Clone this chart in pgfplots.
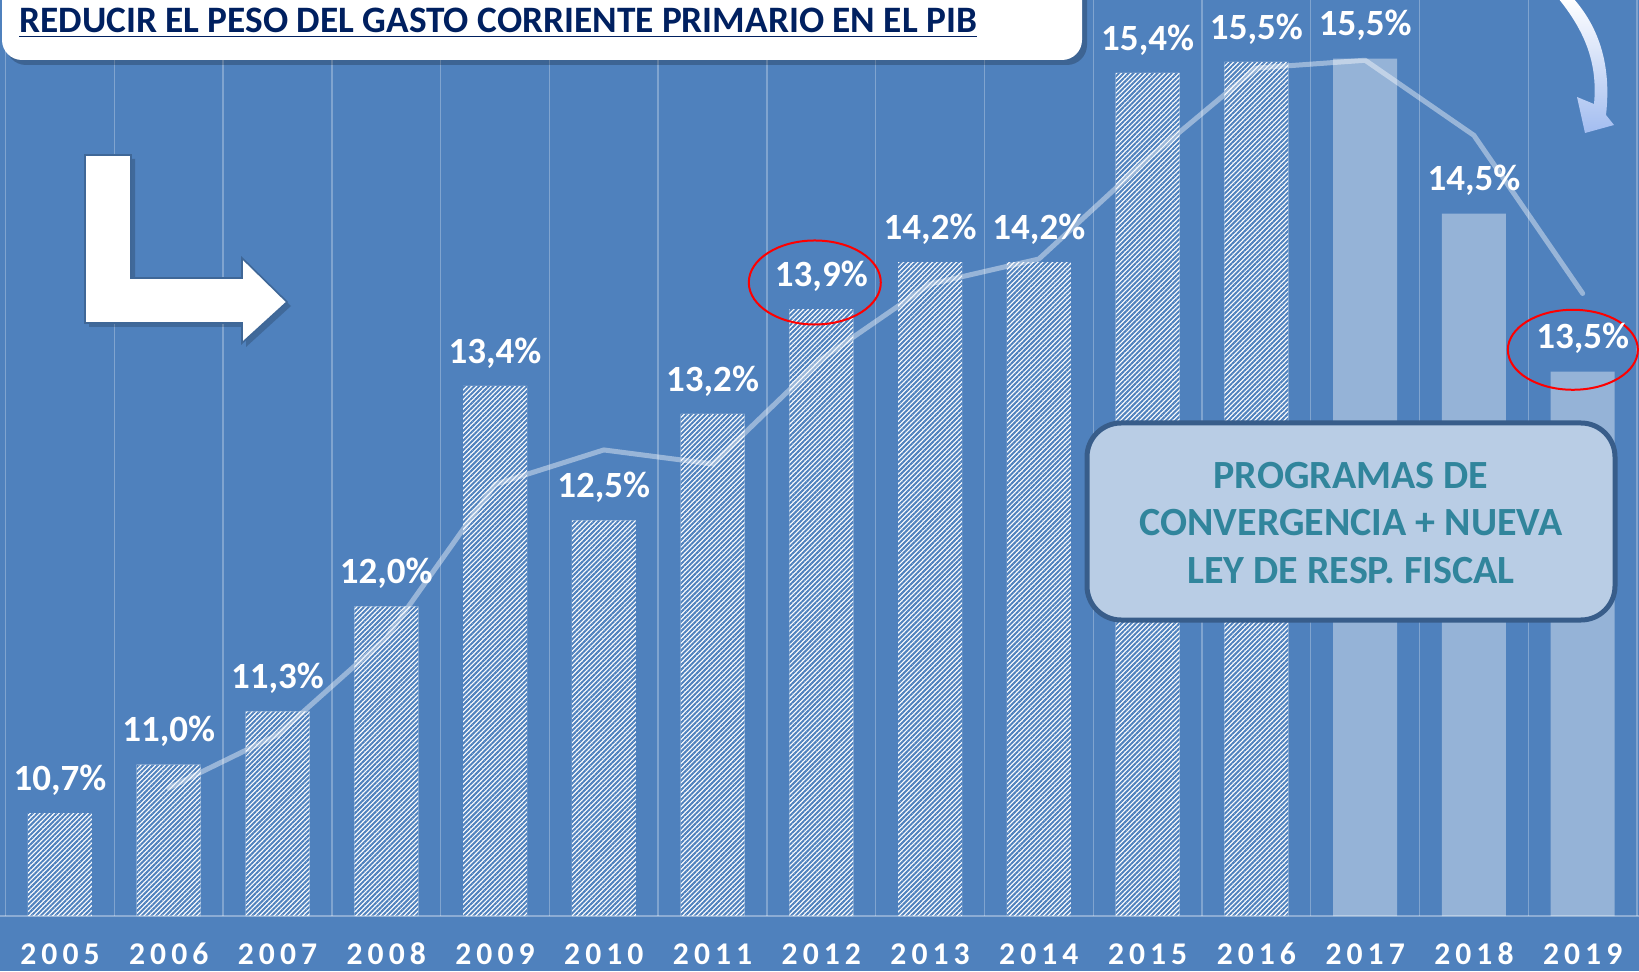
\documentclass[border=0pt]{standalone}
\usepackage{fontspec}
\setmainfont{Carlito}
\newfontfamily\yearfont[LetterSpace=16]{Carlito}
\usepackage{pgfplots}
\pgfplotsset{compat=1.18}
\usetikzlibrary{patterns.meta}
\definecolor{bgblue}{HTML}{4F81BD}
\definecolor{solidbar}{HTML}{95B3D7}
\definecolor{titleblue}{HTML}{002060}
\definecolor{boxfill}{HTML}{B9CDE5}
\definecolor{boxedge}{HTML}{385D8A}
\definecolor{boxtext}{HTML}{31859C}
\definecolor{arrowlight}{HTML}{A3BDF0}

\begin{document}
\begin{tikzpicture}
\useasboundingbox (0,0) rectangle (819.5pt,485.5pt);
\clip (0,0) rectangle (819.5pt,485.5pt);
\fill[bgblue] (0,0) rectangle (819.5pt,485.5pt);
\begin{axis}[
  at={(0pt,485.5pt)}, anchor=north west,
  width=819.5pt, height=458pt, scale only axis,
  xmin=-0.5515, xmax=14.518, ymin=10.042, ymax=15.895,
  axis line style={draw=none},
  ytick=\empty,
  xtick={0,...,14},
  xticklabels={2005,2006,2007,2008,2009,2010,2011,2012,2013,2014,2015,2016,2017,2018,2019},
  major tick length=0pt,
  minor xtick={-0.5,0.5,...,14.5},
  minor tick length=0pt,
  xminorgrids,
  minor grid style={white, opacity=0.28, line width=0.7pt},
  xticklabel style={font=\yearfont\bfseries\fontsize{15.8}{16}\selectfont, text=white, anchor=center, yshift=-19pt},
  nodes near coords style={font=\bfseries\fontsize{18.5}{20}\selectfont, text=white, anchor=center, yshift=16.5pt},
]
% ejecutado 2005-2016
\addplot[ybar, bar width=32pt, bar shift=0pt, draw=none, fill=white,
  postaction={pattern={Lines[angle=45,distance=1.7pt,line width=1pt]}, pattern color=bgblue},
  nodes near coords, point meta=explicit symbolic]
  coordinates {(0,10.7) [10,7\%] (1,11.01) [11,0\%] (2,11.35) [11,3\%] (3,12.02) [12,0\%]
               (4,13.43) [13,4\%] (5,12.57) [12,5\%] (6,13.25) [13,2\%] (7,13.92) [13,9\%]
               (8,14.22) [14,2\%] (9,14.22) [14,2\%] (10,15.43) [15,4\%] (11,15.5) [15,5\%]};
% proyectado 2017-2019
\addplot[ybar, bar width=32pt, bar shift=0pt, draw=none, fill=solidbar,
  nodes near coords, point meta=explicit symbolic]
  coordinates {(12,15.52) [15,5\%] (13,14.53) [14,5\%] (14,13.52) [13,5\%]};
% linea
\addplot[white, opacity=0.42, line width=2.5pt, line join=round, line cap=round]
  coordinates {(1,10.86) (2,11.2) (3,11.82) (4,12.8) (5,13.02) (6,12.93) (7,13.6)
               (8,14.08) (9,14.24) (10,14.88) (11,15.46) (12,15.51) (13,15.03) (14,14.02)};
\draw[white, opacity=0.35, line width=0.7pt] (axis cs:-0.5515,10.042) -- (axis cs:14.518,10.042);
\draw[red, line width=1pt] (axis cs:6.94,14.09) ellipse [x radius=33pt, y radius=21pt];
\draw[red, line width=1pt] (axis cs:13.91,13.66) ellipse [x radius=32.5pt, y radius=20pt];
\end{axis}
\begin{scope}[yshift=485.5pt, x=0.5pt, y=-0.5pt]
  % titulo
  \fill[black, opacity=0.22, rounded corners=10pt] (6,-40) rectangle (1087,65);
  \fill[white, rounded corners=10pt] (2,-40) rectangle (1082,60);
  \node[anchor=base west, inner sep=0pt, text=titleblue, font=\bfseries\fontsize{18.65}{20}\selectfont]
    at (19,33) {\underline{REDUCIR EL PESO DEL GASTO CORRIENTE PRIMARIO EN EL PIB}};
  % flecha en L
  \fill[black, opacity=0.18] (89,159) -- (135,159) -- (135,282) -- (246,282) -- (246,262) -- (291,306)
    -- (246,347) -- (246,327) -- (89,327) -- cycle;
  \filldraw[fill=white, draw=bgblue!80!black, line width=0.8pt] (85,155) -- (131,155) -- (131,278)
    -- (242,278) -- (242,258) -- (287,302) -- (242,343) -- (242,323) -- (85,323) -- cycle;
  % flecha curva
  \shade[top color=white, bottom color=arrowlight] (1558,-2) .. controls (1584,30) and (1598,62) .. (1594,104)
    -- (1577,97) -- (1585,133) -- (1614,125) -- (1606,115) .. controls (1612,62) and (1597,25) .. (1573,-2) -- cycle;
  % recuadro
  \draw[fill=boxfill, draw=boxedge, line width=2.5pt, rounded corners=17pt] (1087,423) rectangle (1615,620);
  \node[text=boxtext, font=\bfseries\fontsize{20}{23.75}\selectfont, align=center] at (1351,523)
    {PROGRAMAS DE\\CONVERGENCIA + NUEVA\\LEY DE RESP. FISCAL};
\end{scope}
\end{tikzpicture}
\end{document}
